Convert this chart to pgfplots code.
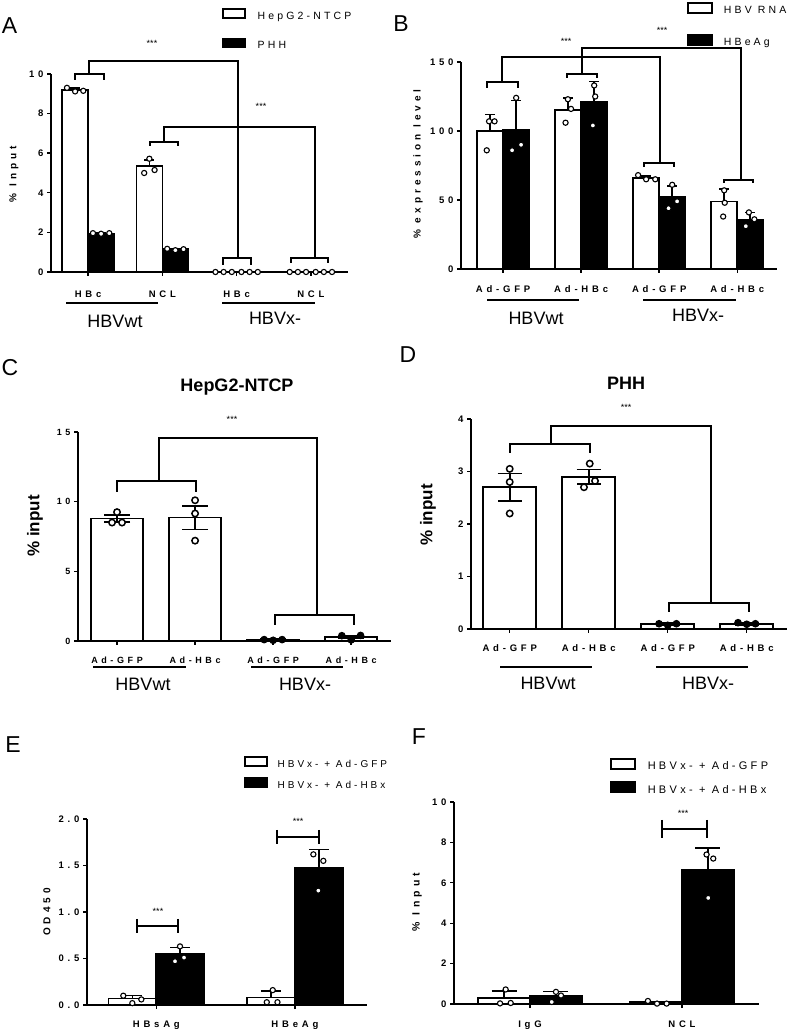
\documentclass[border=0pt]{standalone}
\usepackage{pgfplots}
\pgfplotsset{compat=1.18}
\usepackage{fontspec}
\setmainfont{Liberation Sans}
\newfontfamily\lspb[LetterSpace=40]{Liberation Sans Bold}
\newfontfamily\lspw[LetterSpace=30]{Liberation Sans}
\newcommand{\fs}[1]{\fontsize{#1}{#1}\selectfont}
\pgfplotsset{
  gp/.style={
    scale only axis, clip=false,
    axis x line=bottom, axis y line=left,
    axis line style={-, line width=1.6pt},
    major tick style={line width=1.4pt, black},
    major tick length=4pt, tick align=outside,
    /pgf/number format/assume math mode=true,
    ymin=0,
    tick label style={font=\lspb\fs{9.5}},
    legend style={draw=none, fill=none, inner sep=0pt, outer sep=0pt,
      anchor=north west, legend cell align=left,
      nodes={inner sep=0pt, text height=7pt, text depth=2pt},
      /tikz/every odd column/.append style={column sep=12pt}},
  },
  wbar/.style={ybar, draw=black, fill=white, line width=1.6pt, forget plot, bar shift=0pt},
  bbar/.style={ybar, draw=black, fill=black, line width=1.6pt, forget plot, bar shift=0pt},
  dots/.style={only marks, mark=*, mark size=2.6pt, forget plot,
    mark options={fill=white, draw=black, line width=1.1pt}},
  bigdots/.style={only marks, mark=*, mark size=3.2pt, forget plot,
    mark options={fill=white, draw=black, line width=1.5pt}},
  bdots/.style={only marks, mark=*, mark size=3.2pt, forget plot,
    mark options={fill=black, draw=black, line width=1.2pt}},
  eplus/.style={error bars/.cd, y dir=plus, y explicit,
    error bar style={line width=1.6pt},
    error mark options={rotate=90, line width=1.6pt, mark size=#1}},
  eboth/.style={error bars/.cd, y dir=both, y explicit,
    error bar style={line width=1.6pt},
    error mark options={rotate=90, line width=1.6pt, mark size=#1}},
}
\begin{document}
\begin{tikzpicture}[x=1pt,y=1pt]
\fill[white] (0,0) rectangle (794,1030);
\path[use as bounding box] (0,0) rectangle (794,1030);

% ---------------- A ----------------
\begin{axis}[gp, at={(51pt,758pt)}, anchor=south west, width=297pt, height=198pt,
  xmin=-0.5, xmax=3.5, ymax=10, ytick={0,2,4,6,8,10},
  xtick={0,1,2,3}, xticklabels={HBc,NCL,HBc,NCL},
  xticklabel style={yshift=-11pt},
  legend style={at={(axis description cs:0.576,1.332)}, font=\lspw\fs{10.5},
    /tikz/row sep=16pt}]
\addlegendimage{legend image code/.code={\draw[line width=1.6pt, fill=white] (0pt,-1pt) rectangle (22pt,8pt);}}
\addlegendentry{HepG2-NTCP}
\addlegendimage{legend image code/.code={\draw[line width=1.6pt, fill=black] (0pt,-1pt) rectangle (22pt,8pt);}}
\addlegendentry{PHH}
\addplot[wbar, bar width=26pt, eplus=5pt] coordinates {(-0.175,9.2)+-(0,0.1) (0.825,5.35)+-(0,0.3)};
\addplot[bbar, bar width=26pt, eplus=5pt] coordinates {(0.175,1.95)+-(0,0.03) (1.175,1.15)+-(0,0.04)};
\addplot[wbar, bar width=26pt] coordinates {(1.825,0.01) (2.825,0.01)};
\addplot[bbar, bar width=26pt] coordinates {(2.175,0.01) (3.175,0.01)};
\addplot[dots] coordinates {(-0.285,9.3) (-0.175,9.12) (-0.065,9.15) (0.065,1.96) (0.175,1.93) (0.285,1.96)
 (0.755,5.0) (0.825,5.72) (0.895,5.15) (1.065,1.17) (1.175,1.1) (1.285,1.15)
 (1.715,0) (1.825,0) (1.935,0) (2.065,0) (2.175,0) (2.285,0)
 (2.715,0) (2.825,0) (2.935,0) (3.065,0) (3.175,0) (3.285,0)};
\end{axis}

% ---------------- B ----------------
\begin{axis}[gp, at={(461pt,761pt)}, anchor=south west, width=316pt, height=207pt,
  xmin=-0.54, xmax=3.51, ymax=150, ytick={0,50,100,150},
  xtick={0,1,2,3}, xticklabels={Ad-GFP,Ad-HBc,Ad-GFP,Ad-HBc},
  xticklabel style={yshift=-9pt},
  legend style={at={(axis description cs:0.716,1.289)}, font=\lspw\fs{10.5},
    /tikz/row sep=18pt, /tikz/every odd column/.append style={column sep=11pt}}]
\addlegendimage{legend image code/.code={\draw[line width=1.6pt, fill=white] (0pt,-1.5pt) rectangle (24pt,8.5pt);}}
\addlegendentry{HBV RNA}
\addlegendimage{legend image code/.code={\draw[line width=1.6pt, fill=black] (0pt,-1.5pt) rectangle (24pt,8.5pt);}}
\addlegendentry{HBeAg}
\addplot[wbar, bar width=26pt, eplus=5pt] coordinates {(-0.167,100)+-(0,12) (0.833,115)+-(0,9) (1.833,66)+-(0,1.5) (2.833,49)+-(0,9)};
\addplot[bbar, bar width=26pt, eplus=5pt] coordinates {(0.167,101)+-(0,21) (1.167,121)+-(0,15) (2.167,52)+-(0,8) (3.167,36)+-(0,5)};
\addplot[dots] coordinates {(-0.21,86) (-0.18,107) (-0.11,107) (0.115,86) (0.167,124) (0.23,90)
 (0.80,106) (0.83,123) (0.87,116) (1.15,104) (1.167,133) (1.18,125)
 (1.73,68) (1.833,65) (1.95,65) (2.12,44) (2.167,61) (2.23,49)
 (2.82,38) (2.833,57) (2.84,48) (3.11,31) (3.15,41) (3.22,36)};
\end{axis}

% ---------------- C ----------------
\begin{axis}[gp, at={(78pt,389pt)}, anchor=south west, width=313pt, height=209pt,
  xmin=-0.5, xmax=3.51, ymax=15, ytick={0,5,10,15},
  tick label style={font=\lspb\fs{9}},
  xticklabel style={yshift=-8pt},
  xtick={0,1,2,3}, xticklabels={Ad-GFP,Ad-HBc,Ad-GFP,Ad-HBc}]
\addplot[wbar, bar width=52pt, eboth=13pt] coordinates {(0,8.8)+-(0,0.25) (1,8.85)+-(0,0.85) (2,0.1)+-(0,0.03) (3,0.3)+-(0,0.1)};
\addplot[bigdots] coordinates {(-0.064,8.5) (0,9.25) (0.064,8.5) (1,10.1) (1,9.15) (1,7.2)};
\addplot[bdots] coordinates {(1.885,0.1) (2,0.05) (2.115,0.1) (2.88,0.38) (3,0.08) (3.12,0.4)};
\end{axis}

% ---------------- D ----------------
\begin{axis}[gp, at={(471pt,401pt)}, anchor=south west, width=316pt, height=210pt,
  xmin=-0.49, xmax=3.51, ymax=4, ytick={0,1,2,3,4},
  xticklabel style={yshift=-8pt},
  xtick={0,1,2,3}, xticklabels={Ad-GFP,Ad-HBc,Ad-GFP,Ad-HBc}]
\addplot[wbar, bar width=53pt, eboth=12pt] coordinates {(0,2.7)+-(0,0.26) (1,2.9)+-(0,0.14) (2,0.1)+-(0,0.02) (3,0.1)+-(0,0.02)};
\addplot[bigdots] coordinates {(0,3.05) (0,2.8) (0,2.2) (0.94,2.7) (1.013,3.15) (1.08,2.82)};
\addplot[bdots] coordinates {(1.89,0.1) (2,0.07) (2.11,0.1) (2.89,0.12) (3,0.09) (3.11,0.1)};
\end{axis}

% ---------------- E ----------------
\begin{axis}[gp, at={(87pt,25pt)}, anchor=south west, width=280pt, height=186pt,
  xmin=-0.5, xmax=1.52, ymax=2, ytick={0,0.5,1,1.5,2},
  yticklabel style={/pgf/number format/.cd, fixed, fixed zerofill, precision=1},
  xtick={0,1}, xticklabels={HBsAg,HBeAg},
  xticklabel style={yshift=-8pt},
  legend style={at={(axis description cs:0.561,1.338)}, font=\lspw\fs{10},
    /tikz/row sep=7.5pt, /tikz/every odd column/.append style={column sep=10pt}}]
\addlegendimage{legend image code/.code={\draw[line width=1.6pt, fill=white] (0pt,-1pt) rectangle (22pt,8pt);}}
\addlegendentry{HBVx- + Ad-GFP}
\addlegendimage{legend image code/.code={\draw[line width=1.6pt, fill=black] (0pt,-1pt) rectangle (22pt,8pt);}}
\addlegendentry{HBVx- + Ad-HBx}
\addplot[wbar, bar width=48pt, eplus=10pt] coordinates {(-0.173,0.07)+-(0,0.03) (0.827,0.08)+-(0,0.07)};
\addplot[bbar, bar width=48pt, eplus=10pt] coordinates {(0.173,0.55)+-(0,0.07) (1.173,1.48)+-(0,0.19)};
\addplot[dots] coordinates {(-0.238,0.1) (-0.173,0.02) (-0.108,0.06) (0.135,0.47) (0.171,0.63) (0.20,0.51)
 (0.797,0.03) (0.84,0.16) (0.874,0.03) (1.133,1.62) (1.169,1.23) (1.205,1.55)};
\end{axis}

% ---------------- F ----------------
\begin{axis}[gp, at={(454pt,26pt)}, anchor=south west, width=305pt, height=202pt,
  xmin=-0.5, xmax=1.507, ymax=10, ytick={0,2,4,6,8,10},
  xtick={0,1}, xticklabels={IgG,NCL},
  xticklabel style={yshift=-9pt},
  legend style={at={(axis description cs:0.512,1.217)}, font=\lspw\fs{11},
    /tikz/row sep=9.5pt}]
\addlegendimage{legend image code/.code={\draw[line width=1.6pt, fill=white] (0pt,-1.5pt) rectangle (24pt,8.5pt);}}
\addlegendentry{HBVx- + Ad-GFP}
\addlegendimage{legend image code/.code={\draw[line width=1.6pt, fill=black] (0pt,-1.5pt) rectangle (24pt,8.5pt);}}
\addlegendentry{HBVx- + Ad-HBx}
\addplot[wbar, bar width=52pt, eplus=12.5pt] coordinates {(-0.171,0.3)+-(0,0.35) (0.829,0.1)+-(0,0.02)};
\addplot[bbar, bar width=52pt, eplus=12.5pt] coordinates {(0.171,0.4)+-(0,0.22) (1.171,6.63)+-(0,1.1)};
\addplot[dots] coordinates {(-0.197,0.03) (-0.16,0.72) (-0.127,0.05) (0.143,0.1) (0.171,0.6) (0.204,0.42)
 (0.776,0.15) (0.836,0.02) (0.899,0.02) (1.162,7.4) (1.173,5.25) (1.206,7.2)};
\end{axis}

% ---------------- annotations (image pixel coordinates) ----------------
\begin{scope}[x=1pt, y=-1pt, yshift=1030pt, line width=1.6pt]
% panel letters
\node[font=\fs{23}] at (9.5,26) {A};
\node[font=\fs{23}] at (401,24) {B};
\node[font=\fs{23}] at (10,368) {C};
\node[font=\fs{23}] at (408,355) {D};
\node[font=\fs{23}] at (13,745) {E};
\node[font=\fs{23}] at (419,737) {F};
% y labels
\node[rotate=90, font=\lspb\fs{10}] at (14,174) {\% Input};
\node[rotate=90, font=\lspb\fs{10}] at (418,164) {\% expression level};
\node[rotate=90, font=\bfseries\fs{17}] at (35,526) {\% input};
\node[rotate=90, font=\bfseries\fs{17}] at (428,515) {\% input};
\node[rotate=90, font=\lspb\fs{10}] at (47,912) {OD450};
\node[rotate=90, font=\lspb\fs{10.5}] at (417,902) {\% Input};
% titles
\node[font=\bfseries\fs{18}] at (237,387) {HepG2-NTCP};
\node[font=\bfseries\fs{18}] at (626,383) {PHH};
% group lines and labels
\draw (66,303) -- (158,303); \draw (222,303) -- (315,303);
\node[font=\fs{18}] at (115,321) {HBVwt}; \node[font=\fs{18}] at (275,318) {HBVx-};
\draw (487,300) -- (579,300); \draw (643,300) -- (736,300);
\node[font=\fs{18}] at (536,318) {HBVwt}; \node[font=\fs{18}] at (698,315) {HBVx-};
\draw (93,667) -- (186,667); \draw (251,667) -- (343,667);
\node[font=\fs{18}] at (143,684) {HBVwt}; \node[font=\fs{18}] at (305,684) {HBVx-};
\draw (500,667) -- (592,667); \draw (656,667) -- (748,667);
\node[font=\fs{18}] at (548,683) {HBVwt}; \node[font=\fs{18}] at (708,683) {HBVx-};
% brackets A
\draw (75,80) -- (75,74) -- (104,74) -- (104,80);
\draw (89,74) -- (89,61) -- (238,61) -- (238,258);
\draw (223,265) -- (223,258) -- (251,258) -- (251,265);
\node[font=\fs{9}] at (152,43) {***};
\draw (150,146) -- (150,142) -- (178,142) -- (178,146);
\draw (164,142) -- (164,127) -- (315,127) -- (315,258);
\draw (291,263) -- (291,258) -- (328,258) -- (328,263);
\node[font=\fs{9}] at (261,106) {***};
% brackets B
\draw (487,88) -- (487,82) -- (518,82) -- (518,88);
\draw (502,82) -- (502,57) -- (660,57) -- (660,163);
\draw (644,167) -- (644,163) -- (674,163) -- (674,167);
\node[font=\fs{9}] at (566,41) {***};
\draw (567,78) -- (567,74) -- (597,74) -- (597,78);
\draw (582,74) -- (582,48) -- (741,48) -- (741,180);
\draw (724,183) -- (724,180) -- (753,180) -- (753,183);
\node[font=\fs{9}] at (662,30) {***};
% brackets C
\draw (117,492) -- (117,481) -- (196,481) -- (196,492);
\draw (159,481) -- (159,438) -- (317,438) -- (317,615);
\draw (275,625) -- (275,615) -- (354,615) -- (354,625);
\node[font=\fs{9}] at (232,419) {***};
% brackets D
\draw (510,453) -- (510,444) -- (590,444) -- (590,453);
\draw (551,444) -- (551,426) -- (711,426) -- (711,603);
\draw (669,612) -- (669,603) -- (749,603) -- (749,612);
\node[font=\fs{9}] at (626,407) {***};
% brackets E
\draw (137,926) -- (178,926); \draw (137,919) -- (137,933); \draw (178,919) -- (178,933);
\node[font=\fs{9}] at (158,911) {***};
\draw (277,837) -- (319,837); \draw (277,830) -- (277,844); \draw (319,830) -- (319,844);
\node[font=\fs{9}] at (298,821) {***};
% bracket F
\draw (662,829) -- (707,829); \draw (662,820) -- (662,838); \draw (707,820) -- (707,838);
\node[font=\fs{9}] at (683,813) {***};
\end{scope}
\end{tikzpicture}
\end{document}
